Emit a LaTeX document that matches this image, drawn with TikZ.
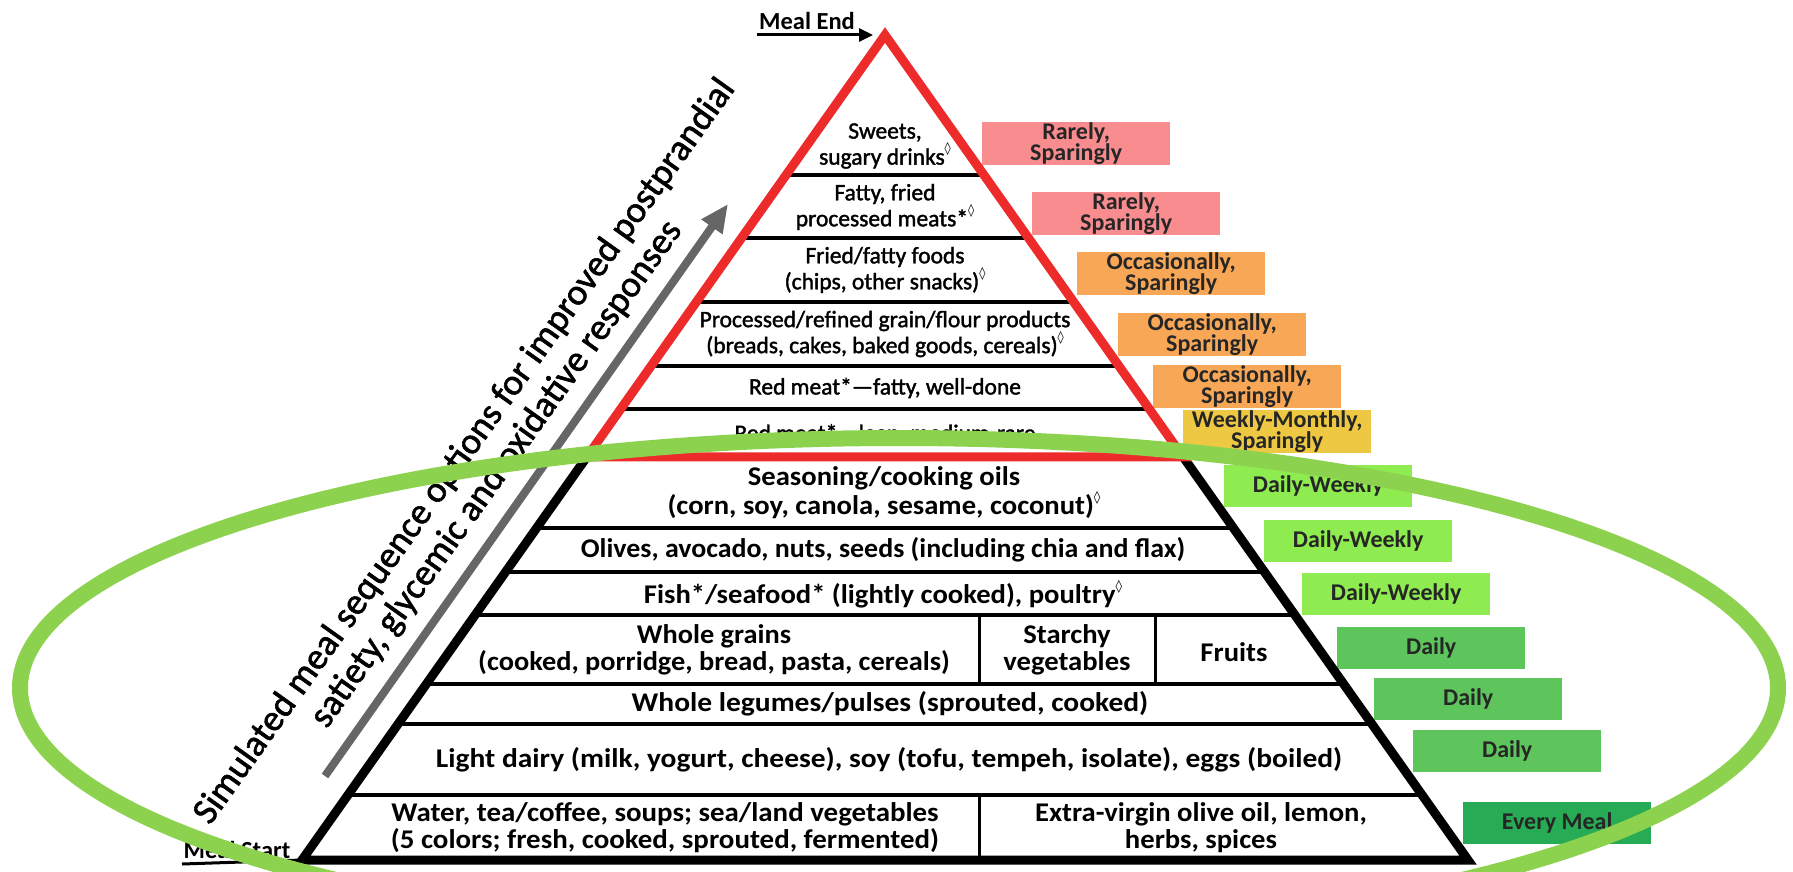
\documentclass[tikz,border=0pt]{standalone}
\usepackage{fontspec}
\setmainfont{Carlito}
\newfontfamily\dejavu{DejaVu Sans}
\newfontfamily\upfont[FakeBold=1.6]{Carlito}
\usetikzlibrary{calc,arrows.meta}
\newcommand\dia{\raisebox{0.5em}{\dejavu\fontsize{12.5}{12.5}\selectfont ◊}}
\definecolor{pyrred}{HTML}{EE2B2B}
\definecolor{pinkbox}{HTML}{F88C8E}
\definecolor{orangebox}{HTML}{F8A757}
\definecolor{yellowbox}{HTML}{EEC843}
\definecolor{limebox}{HTML}{8EEB50}
\definecolor{greenbox}{HTML}{5EC45C}
\definecolor{darkbox}{HTML}{27AB55}
\definecolor{ringgreen}{HTML}{8CD24E}
\definecolor{arrowgray}{HTML}{666666}
\begin{document}
\begin{tikzpicture}[x=1pt,y=-1pt,
  uptext/.style={font=\upfont\fontsize{23.5}{26}\selectfont, align=center, inner sep=0pt},
  lowtext/.style={font=\bfseries\fontsize{27}{27}\selectfont, align=center, inner sep=0pt, xscale=1.06},
  freqbox/.style={font=\bfseries\fontsize{24}{19}\selectfont, align=center, minimum width=188pt, minimum height=42pt, inner sep=0pt, anchor=north west, text=black!85},
  sepline/.style={line width=4pt},
  divline/.style={line width=3pt},
  outline/.style={line width=9pt, line join=miter},
  mealtext/.style={font=\bfseries\fontsize{24.5}{24.5}\selectfont, inner sep=0pt},
  sidetext/.style={font=\upfont\fontsize{37}{39}\selectfont, align=center, inner sep=0pt}
]
\useasboundingbox (0,0) rectangle (1793,872);
\clip (0,0) rectangle (1793,872);

% frequency boxes
\node[freqbox, fill=pinkbox]   (f1)  at (982,122)  {Rarely,\\Sparingly};
\node[freqbox, fill=pinkbox]   (f2)  at (1032,192) {Rarely,\\Sparingly};
\node[freqbox, fill=orangebox] (f3)  at (1077,252) {Occasionally,\\Sparingly};
\node[freqbox, fill=orangebox] (f4)  at (1118,313) {Occasionally,\\Sparingly};
\node[freqbox, fill=orangebox] (f5)  at (1153,365) {Occasionally,\\Sparingly};
\node[freqbox, fill=yellowbox] (f6)  at (1183,410) {Weekly-Monthly,\\Sparingly};
\node[freqbox, fill=limebox]   (f7)  at (1224,465) {Daily-Weekly};
\node[freqbox, fill=limebox]   (f8)  at (1264,520) {Daily-Weekly};
\node[freqbox, fill=limebox]   (f9)  at (1302,573) {Daily-Weekly};
\node[freqbox, fill=greenbox]  (f10) at (1337,627) {Daily};
\node[freqbox, fill=greenbox]  (f11) at (1374,678) {Daily};
\node[freqbox, fill=greenbox]  (f12) at (1413,730) {Daily};
\node[freqbox, fill=darkbox]   (f13) at (1463,802) {Every Meal};

% pyramid geometry
\coordinate (A) at (885,35);
\coordinate (BL) at (302,860);
\coordinate (BR) at (1468,860);
\coordinate (RL) at ($(A)!{(457-35)/825}!(BL)$);
\coordinate (RR) at ($(A)!{(457-35)/825}!(BR)$);

% row separators
\foreach \yy in {175,238,302,366,409,528,572,615,684,724,795}
  \draw[sepline] ($(A)!{(\yy-35)/825}!(BL)$) -- ($(A)!{(\yy-35)/825}!(BR)$);
\draw[divline] (979,615) -- (979,684);
\draw[divline] (1155,615) -- (1155,684);
\draw[divline] (979,795) -- (979,860);

% pyramid text
\node[uptext] (t1) at (885,146) {Sweets,\\sugary drinks\dia};
\node[uptext] (t2) at (885,207) {Fatty, fried\\processed meats*\dia};
\node[uptext] (t3) at (885,270) {Fried/fatty foods\\(chips, other snacks)\dia};
\node[uptext] (t4) at (885,334) {Processed/refined grain/flour products\\(breads, cakes, baked goods, cereals)\dia};
\node[uptext] (t5) at (885,388) {Red meat*—fatty, well-done};
\node[uptext] (t6) at (885,434) {Red meat*—lean, medium-rare};
\node[lowtext] (t7) at (884,493) {Seasoning/cooking oils\\(corn, soy, canola, sesame, coconut)\dia};
\node[lowtext, xscale=0.975] (t8) at (883,550) {Olives, avocado, nuts, seeds (including chia and flax)};
\node[lowtext] (t9) at (883,594) {Fish*/seafood* (lightly cooked), poultry\dia};
\node[lowtext, xscale=0.99] (t10) at (714,650) {Whole grains\\(cooked, porridge, bread, pasta, cereals)};
\node[lowtext] (t11) at (1067,650) {Starchy\\vegetables};
\node[lowtext] (t12) at (1234,652) {Fruits};
\node[lowtext, xscale=1.03] (t13) at (890,704) {Whole legumes/pulses (sprouted, cooked)};
\node[lowtext, xscale=1.03] (t14) at (889,760) {Light dairy (milk, yogurt, cheese), soy (tofu, tempeh, isolate), eggs (boiled)};
\node[lowtext, xscale=1.01] (t15) at (665,828) {Water, tea/coffee, soups; sea/land vegetables\\(5 colors; fresh, cooked, sprouted, fermented)};
\node[lowtext] (t16) at (1201,828) {Extra-virgin olive oil, lemon,\\herbs, spices};

% outlines
\draw[outline] (RL) -- (BL) -- (BR) -- (RR);
\draw[outline, pyrred] (RL) -- (A) -- (RR) -- cycle;

% gray sequence arrow and side text
\coordinate (g0) at (325,776);
\coordinate (g1) at (728,204);
\draw[arrowgray, line width=8pt, -{Triangle[length=28pt,width=24pt]}] (g0) -- (g1);
\node[sidetext, rotate=54.5] (side) at (481,463) {Simulated meal sequence options for improved postprandial\\satiety, glycemic and oxidative responses};

% meal end / start
\node[mealtext] (mend) at (807,21) {Meal End};
\coordinate (me0) at (757,35);
\draw[line width=3pt, shorten >=12pt, -{Triangle[length=14pt,width=13pt]}] (me0) -- (A);
\node[mealtext, anchor=base] (mstart) at (237,858) {Meal Start};
\coordinate (ms0) at (182,864);
\draw[line width=3pt] (ms0) -- (BL);

% green highlight ellipse
\draw[ringgreen, line width=16pt] (899,688) ellipse [x radius=879, y radius=250];
\end{tikzpicture}
\end{document}
